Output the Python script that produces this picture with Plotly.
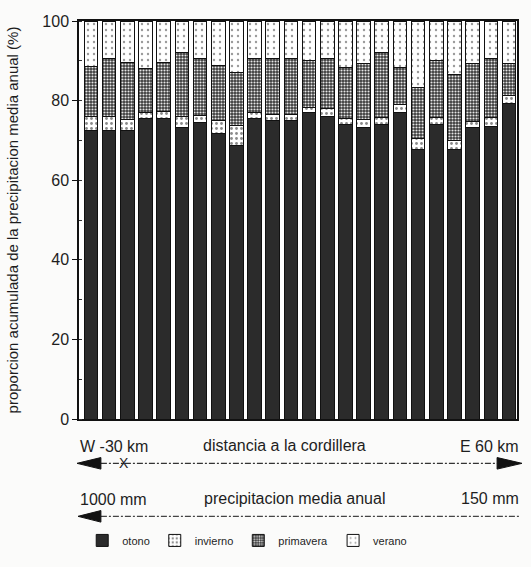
import plotly.graph_objects as go

# ---- data ----
stations = list(range(1, 25))
otono = [72.4, 72.4, 72.4, 75.6, 75.6, 73.2, 74.6, 71.7, 68.8, 75.6, 74.9, 74.9,
         77.1, 75.9, 73.9, 73.2, 74.1, 77.1, 67.6, 74.1, 67.6, 73.2, 73.4, 79.3]
invierno = [3.7, 3.7, 2.8, 1.5, 1.6, 2.8, 1.6, 3.2, 4.9, 1.5, 1.6, 1.6,
            1.2, 2.0, 1.6, 2.0, 1.6, 2.0, 2.8, 1.6, 2.4, 1.6, 2.4, 2.0]
primavera = [12.4, 14.4, 14.3, 10.9, 12.3, 16.0, 14.3, 13.9, 13.4, 13.6, 14.0, 14.2,
             11.9, 12.6, 12.8, 14.1, 16.5, 9.2, 12.8, 14.5, 16.5, 14.5, 14.7, 8.0]
verano = [11.5, 9.5, 10.5, 12.0, 10.5, 8.0, 9.5, 11.2, 12.9, 9.3, 9.5, 9.3,
          9.8, 9.5, 11.7, 10.7, 7.8, 11.7, 16.8, 9.8, 13.5, 10.7, 9.5, 10.7]
season_names = ["otono", "invierno", "primavera", "verano"]
y_ticks = [0, 20, 40, 60, 80, 100]

FONT = "Liberation Sans, Arial, Helvetica, sans-serif"
INK = "#1e1e1e"

styles = [
    dict(color="#2b2b2b", pattern=dict(shape="")),
    dict(color="white", pattern=dict(shape=".", bgcolor="white", fgcolor="#8a8a8a",
                                     size=5, solidity=0.25, fillmode="replace")),
    dict(color="#444", pattern=dict(shape=".", bgcolor="#3a3a3a", fgcolor="#e6e6e6",
                                    size=3, solidity=0.4, fillmode="replace")),
    dict(color="white", pattern=dict(shape=".", bgcolor="white", fgcolor="#9a9a9a",
                                     size=6, solidity=0.12, fillmode="replace")),
]

fig = go.Figure()
for name, vals, st in zip(season_names, [otono, invierno, primavera, verano], styles):
    fig.add_trace(go.Bar(
        x=stations, y=vals, name=name,
        marker=dict(color=st["color"], pattern=st["pattern"],
                    line=dict(color="#111", width=1)),
    ))

# ---- decorations below the plot (paper coords) ----
def px_x(px):
    return (px - 78) / 440

def px_y(py):
    return (434 - py) / 413

shapes = []
ya = px_y(480)
hh = 6 / 413
shapes.append(dict(type="line", xref="paper", yref="paper", x0=px_x(100), x1=px_x(498),
                   y0=ya, y1=ya, line=dict(color="#333", width=1.2, dash="6px,2px,2px,2px")))
shapes.append(dict(type="path", xref="paper", yref="paper",
                   path=f"M {px_x(76)} {ya} L {px_x(100)} {ya+hh} L {px_x(100)} {ya-hh} Z",
                   fillcolor="#111", line=dict(color="#111", width=1)))
shapes.append(dict(type="path", xref="paper", yref="paper",
                   path=f"M {px_x(523)} {ya} L {px_x(498)} {ya+hh} L {px_x(498)} {ya-hh} Z",
                   fillcolor="#111", line=dict(color="#111", width=1)))
yb = px_y(535)
shapes.append(dict(type="line", xref="paper", yref="paper", x0=px_x(100), x1=px_x(520),
                   y0=yb, y1=yb, line=dict(color="#444", width=1.2, dash="6px,2px,2px,2px")))
shapes.append(dict(type="path", xref="paper", yref="paper",
                   path=f"M {px_x(77)} {yb} L {px_x(100)} {yb+hh} L {px_x(100)} {yb-hh} Z",
                   fillcolor="#111", line=dict(color="#111", width=1)))

def ann(text, px, py, anchor, size=16):
    return dict(text=text, xref="paper", yref="paper", x=px_x(px), y=px_y(py),
                xanchor=anchor, yanchor="middle", showarrow=False,
                font=dict(family=FONT, size=size, color=INK))

annotations = [
    ann("W -30 km", 77, 463, "left"),
    ann("distancia a la cordillera", 284, 462, "center"),
    ann("E 60 km", 522, 463, "right"),
    ann("X", 123, 480, "center", 14),
    ann("1000 mm", 77, 518, "left"),
    ann("precipitacion media anual", 294, 516, "center"),
    ann("150 mm", 522, 516, "right"),
]

fig.update_layout(
    width=531, height=567,
    margin=dict(l=78, r=13, t=21, b=133),
    barmode="stack", bargap=0.25,
    paper_bgcolor="#fbfbfa", plot_bgcolor="white",
    font=dict(family=FONT, color=INK),
    shapes=shapes, annotations=annotations,
    legend=dict(orientation="h", x=px_x(247), xanchor="center", y=px_y(560), yanchor="middle",
                font=dict(size=11, family=FONT, color=INK), bgcolor="rgba(0,0,0,0)",
                traceorder="normal", itemwidth=30),
    showlegend=True,
)
fig.update_xaxes(range=[0.34, 24.44], showticklabels=False, ticks="", showgrid=False,
                 zeroline=False, showline=True, linecolor="#111", linewidth=1.5, mirror=True)
fig.update_yaxes(range=[0, 100], tickvals=y_ticks, ticks="outside", ticklen=5, tickcolor="#111",
                 showgrid=False, zeroline=False, showline=True, linecolor="#111", linewidth=1.5,
                 mirror=True, tickfont=dict(size=16, family=FONT, color=INK),
                 minor=dict(dtick=10, ticks="inside", ticklen=3, tickcolor="#333"),
                 title=dict(text="proporcion acumulada de la precipitacion media anual (%)",
                            font=dict(size=15, family=FONT, color=INK), standoff=20))

fig.write_html("out.html", config={"displayModeBar": False},
               post_script="document.body.style.margin='0';")
